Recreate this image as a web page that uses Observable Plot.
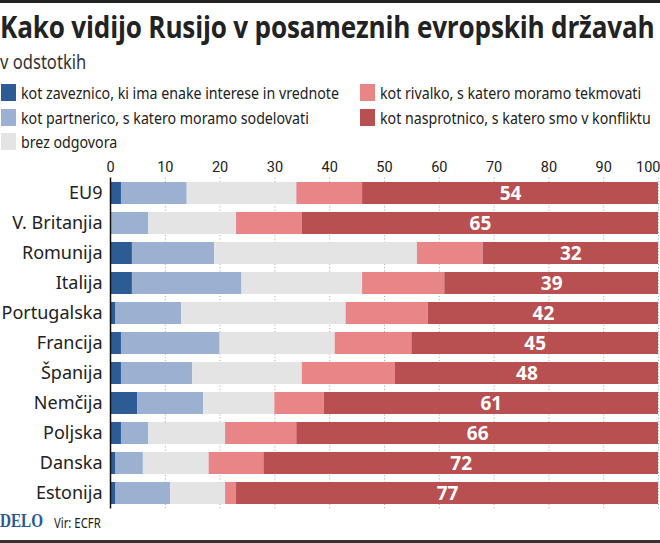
<!DOCTYPE html>
<html><head><meta charset="utf-8">
<script src="https://cdn.jsdelivr.net/npm/d3@7"></script>
<script src="https://cdn.jsdelivr.net/npm/@observablehq/plot@0.6"></script>
<style>
html,body{margin:0;padding:0;background:#fff;}
#wrap{position:relative;width:660px;height:543px;overflow:hidden;font-family:"Noto Sans",sans-serif;color:#222;}
.topbar{position:absolute;left:0;top:0;width:660px;height:3px;background:#222;}
.botbar{position:absolute;left:0;top:540px;width:660px;height:3px;background:#333;}
.title{position:absolute;left:0;top:6px;font-family:"Open Sans",sans-serif;font-weight:700;font-size:30px;letter-spacing:-0.2px;white-space:nowrap;color:#222;transform:scaleX(0.87);transform-origin:0 0;}
.sub{position:absolute;left:0;top:48px;font-family:"Noto Sans",sans-serif;font-weight:400;font-size:19.5px;color:#333;white-space:nowrap;transform:scaleX(0.85);transform-origin:0 0;}
.leg{position:absolute;font-family:"Noto Sans",sans-serif;font-size:16.5px;color:#222;white-space:nowrap;transform:scaleX(0.86);transform-origin:0 0;}
.sw{position:absolute;width:15px;height:17px;}
#chart{position:absolute;left:0;top:152px;}
.foot{position:absolute;top:511px;white-space:nowrap;}
</style></head>
<body><div id="wrap">
<div class="topbar"></div>
<div class="title">Kako vidijo Rusijo v posameznih evropskih državah</div>
<div class="sub">v odstotkih</div>
<div id="legend"></div>
<div id="chart"></div>
<div class="foot" style="left:0;top:510px;font-family:'Liberation Serif','DejaVu Serif',serif;font-weight:700;font-size:19px;color:#2b5a8e;transform:scaleX(0.8);transform-origin:0 0;">DELO</div>
<div class="foot" style="left:54px;top:512px;font-family:'Noto Sans',sans-serif;font-size:14.5px;color:#222;transform:scaleX(0.78);transform-origin:0 0;">Vir: ECFR</div>
<div class="botbar"></div>
</div>
<script>
const countries = ["EU9","V. Britanjia","Romunija","Italija","Portugalska","Francija","Španija","Nemčija","Poljska","Danska","Estonija"];
const categories = [
  "kot zaveznico, ki ima enake interese in vrednote",
  "kot partnerico, s katero moramo sodelovati",
  "brez odgovora",
  "kot rivalko, s katero moramo tekmovati",
  "kot nasprotnico, s katero smo v konfliktu"
];
const colors = ["#2d5c94","#9cb0d2","#e4e4e4","#e88587","#b84f51"];
const zaveznica  = [2,0,4,4,1,2,2,5,2,1,1];
const partnerica = [12,7,15,20,12,18,13,12,5,5,10];
const brezOdg    = [20,16,37,22,30,21,20,13,14,12,10];
const rivalka    = [12,12,12,15,15,14,17,9,13,10,2];
const nasprotnica= [54,65,32,39,42,45,48,61,66,72,77];
const xTicks = [0,10,20,30,40,50,60,70,80,90,100];

const series = [zaveznica, partnerica, brezOdg, rivalka, nasprotnica];
const long = [];
countries.forEach((c,i)=>series.forEach((s,k)=>long.push({country:c, cat:categories[k], value:s[i], last:k===4})));

// legend
const leg = document.getElementById("legend");
const legPos = [[0,0],[0,1],[0,2],[1,0],[1,1]];
categories.forEach((name,k)=>{
  const [col,row]=legPos[k];
  const x0 = col===0?1:360, y0 = 84+row*24.5;
  const sw=document.createElement("div");sw.className="sw";sw.style.left=x0+"px";sw.style.top=y0+"px";sw.style.background=colors[k];leg.appendChild(sw);
  const t=document.createElement("div");t.className="leg";t.style.left=(x0+20)+"px";t.style.top=(y0-3)+"px";t.textContent=name;leg.appendChild(t);
});

const W=660,H=362,mT=25.5,mB=5.5,mL=110,mR=2;
const tickFont = "Roboto, 'Noto Sans', sans-serif";
const plot = Plot.plot({
  width:W,height:H,marginTop:mT,marginBottom:mB,marginLeft:mL,marginRight:mR,
  style:{fontFamily:"'Noto Sans',sans-serif",overflow:"visible",background:"transparent"},
  x:{domain:[0,100],axis:null},
  y:{domain:countries,paddingInner:0.28,paddingOuter:0.14,axis:null},
  color:{domain:categories,range:colors},
  marks:[
    Plot.ruleX(xTicks.slice(1),{stroke:"#b0b0b0",strokeDasharray:"1.2,2",strokeWidth:1}),
    Plot.barX(long, Plot.stackX({x:"value",y:"country",fill:"cat",order:categories})),
    Plot.ruleX([0],{stroke:"#111",strokeWidth:1.5}),
    Plot.text(long, Plot.stackX({x:"value",y:"country",z:"cat",order:categories,
      text:d=>d.last?String(d.value):null,fill:"#fff",fontWeight:700,fontSize:19,
      fontFamily:"'Open Sans',sans-serif"})),
    Plot.axisY({tickSize:0,tickPadding:8,fontSize:18,label:null,fill:"#222"}),
    Plot.text(xTicks.slice(0,-1),{x:d=>d,frameAnchor:"top",dy:-6,lineAnchor:"bottom",text:d=>String(d),
      fontSize:14.5,fill:"#222",fontFamily:tickFont}),
    Plot.text(xTicks.slice(-1),{x:d=>d,frameAnchor:"top",dy:-6,dx:2,lineAnchor:"bottom",textAnchor:"end",text:d=>String(d),
      fontSize:14.5,fill:"#222",fontFamily:tickFont})
  ]
});
document.getElementById("chart").appendChild(plot);
</script>
</body></html>
